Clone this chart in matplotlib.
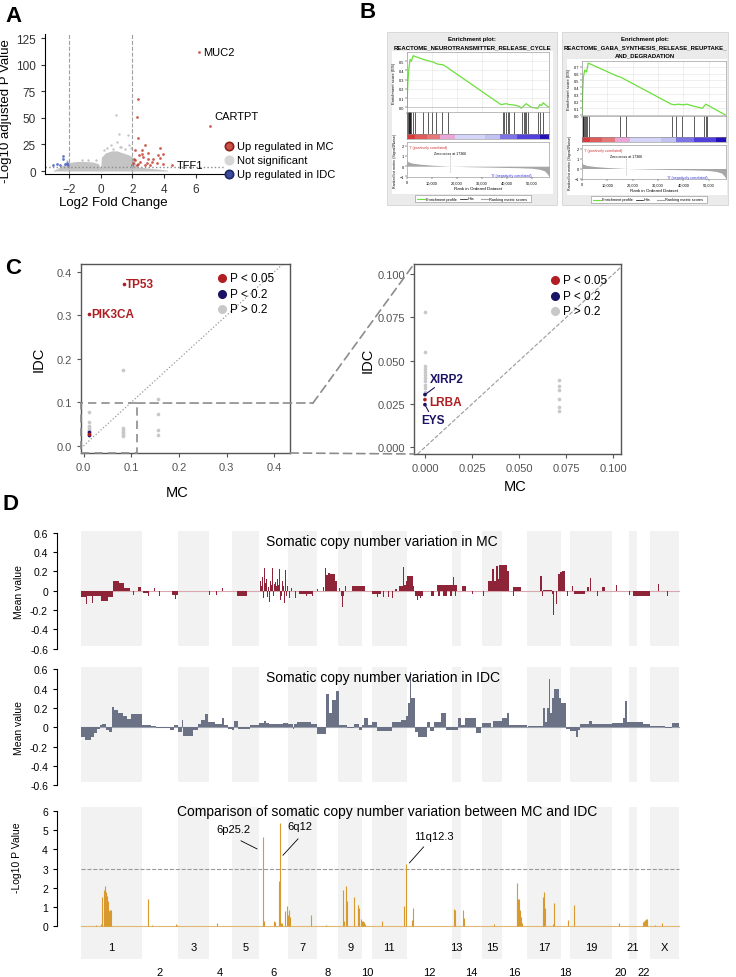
import numpy as np
import matplotlib.pyplot as plt
from matplotlib.patches import Rectangle, ConnectionPatch
from matplotlib.lines import Line2D

plt.rcParams['font.family'] = ['Liberation Sans', 'DejaVu Sans']

W, H = 736, 978

# ---------------- A: volcano data ----------------
cloud_fc = [-3.0, -2.7, -2.4, -2.0, -1.5, -1.0, -0.5, -0.15, 0.0, 0.05, 0.3, 0.7, 1.0, 1.4, 1.8, 2.0, 2.3, 2.8, 3.5, 4.2]
cloud_top = [0.5, 2.5, 5.5, 8, 9, 9, 8.5, 7, 3, 13, 17, 19, 19, 17, 15, 13, 4, 3, 2, 0.8]
ns_fc = [0.95, 1.16, 1.74, 1.05, 0.66, 1.78, 0.4, 1.3, 0.8, 1.5, 1.9, 0.2, -0.3, -1.2, -2.1, -0.8, 1.2]
ns_logp = [52.4, 35.1, 33.5, 27.2, 24.1, 24.1, 22, 22.5, 21, 20.5, 21.5, 20, 10.5, 10, 9, 10.5, 23]
mc_fc = [2.32, 2.26, 2.32, 2.79, 3.73, 2.16, 2.58, 3.94, 3.0, 2.43, 3.62, 2.68, 2.16, 3.0, 3.31, 2.48,
         3.2, 3.73, 2.37, 2.9, 3.52, 2.26, 2.79, 3.1, 3.94, 2.05, 2.1, 2.58, 2.0, 6.16, 6.87, 4.47]
mc_logp = [67.3, 50.7, 30.9, 24.6, 21.9, 19.4, 16.2, 16.2, 17.1, 14.6, 14.6, 13.1, 9.9, 11.5, 11.5, 8.4,
           8.4, 12.1, 6.8, 7.7, 7.7, 5.3, 5.3, 5.9, 6.2, 7.7, 11.5, 19.4, 5.3, 111.5, 42.6, 5.6]
idc_fc = [-2.35, -2.35, -2.1, -2.76, -2.97, -2.05, -2.56, -2.25]
idc_logp = [13.8, 11.3, 7.7, 6.8, 5.9, 5.9, 5.3, 6.8]
volcano_genes = ['MUC2', 'CARTPT', 'TFF1']
volcano_gene_fc = [6.16, 6.87, 4.47]
volcano_gene_logp = [111.5, 42.6, 5.6]
volcano_legend = ['Up regulated in MC', 'Not significant', 'Up regulated in IDC']

# ---------------- B: GSEA data ----------------
rank_max = 56800
es1_rank = [0, 70, 400, 810, 1220, 1760, 2430, 4460, 6490, 9190, 10540, 12160, 14600, 37570, 39600, 40950,
            42970, 45000, 45680, 47700, 49730, 52430, 53100, 53780, 54460, 55810, 56800]
es1_val = [0, 0.1, 0.3, 0.43, 0.52, 0.5, 0.56, 0.54, 0.52, 0.5, 0.49, 0.47, 0.46, 0.03, 0.04, 0.03,
           0.025, 0.01, -0.01, 0.04, 0.0, -0.01, 0.03, 0.02, 0.05, 0.02, 0.0]
hits1 = [100, 400, 700, 800, 1100, 1350, 1750, 2430, 3100, 6490, 8510, 9860, 11620, 13920, 16220, 38240,
         38920, 39590, 40270, 40950, 42970, 45950, 46620, 47030, 47700, 48380, 52430, 53110, 54460]
es2_rank = [0, 270, 550, 1090, 1770, 2460, 14050, 15140, 35200, 36560, 37930, 39970, 41340, 44070, 47480, 48840, 56800]
es2_val = [0, 0.35, 0.55, 0.65, 0.62, 0.75, 0.56, 0.55, 0.16, 0.15, 0.16, 0.15, 0.16, 0.13, 0.1, 0.16, 0.0]
hits2 = [270, 550, 820, 1090, 1500, 2050, 2860, 14870, 17190, 35470, 36970, 39290, 44070, 48160, 48840, 49250]
metric_rank = [0, 300, 2000, 5000, 10000, 17366, 25000, 35000, 45000, 50000, 53000, 55000, 56000, 56800]
metric_val = [0.7, 0.45, 0.3, 0.2, 0.1, 0.0, -0.05, -0.1, -0.15, -0.2, -0.3, -0.45, -0.7, -1.0]
cbar_start = [0, 3000, 8000, 13000, 19000, 31000, 37000, 44000, 53000]
cbar_end = [3000, 8000, 13000, 19000, 31000, 37000, 44000, 53000, 56800]
cbar_colors = ['#D63C3C', '#DE5C5C', '#E57878', '#E9A6D6', '#D4D4F8', '#C2C2F2', '#7C74E6', '#5140DC', '#2210B8']

# ---------------- C: mutation frequency data ----------------
cl_grey_mc = [0.011, 0.011, 0.011, 0.011, 0.011, 0.011, 0.011, 0.011, 0.011,
              0.083, 0.083, 0.083, 0.083, 0.083, 0.083, 0.083, 0.155, 0.155, 0.155, 0.155]
cl_grey_idc = [0.077, 0.054, 0.045, 0.042, 0.039, 0.036, 0.033, 0.030, 0.025,
               0.040, 0.036, 0.032, 0.029, 0.025, 0.022, 0.173, 0.108, 0.072, 0.036, 0.025]
cl_red_genes = ['TP53', 'PIK3CA']
cl_red_mc = [0.084, 0.011, 0.011]
cl_red_idc = [0.372, 0.303, 0.0275]
cl_blue_mc = [0.011, 0.011]
cl_blue_idc = [0.0304, 0.0246]
cr_grey_mc = [0, 0, 0, 0, 0, 0, 0, 0, 0, 0, 0, 0, 0.071, 0.071, 0.071, 0.071, 0.071, 0.071]
cr_grey_idc = [0.078, 0.055, 0.047, 0.045, 0.0435, 0.042, 0.040, 0.038, 0.036, 0.034, 0.032, 0.031,
               0.039, 0.0355, 0.033, 0.028, 0.0235, 0.021]
cr_genes = ['XIRP2', 'LRBA', 'EYS']
cr_gene_mc = [0, 0, 0]
cr_gene_idc = [0.0304, 0.0275, 0.0246]
cr_gene_colors = ['#1B1464', '#B01E23', '#1B1464']
c_legend = ['P < 0.05', 'P < 0.2', 'P > 0.2']

# ---------------- D: copy number data ----------------
chrom_names = ['1', '2', '3', '4', '5', '6', '7', '8', '9', '10', '11', '12', '13', '14', '15', '16',
               '17', '18', '19', '20', '21', '22', 'X']
chrom_sizes = [60.7, 36.6, 30.4, 23.2, 26.7, 29.5, 28.6, 21.4, 24.1, 9.4, 35.2, 45.1, 9.3, 21.0, 20.1,
               25.0, 33.5, 9.3, 42.0, 16.5, 8.0, 13.4, 29.0]
# segments: (start, end, mean value)
mc_segments = [
    (0, 4.5, -0.07), (4.5, 5.5, -0.14), (5.5, 11, -0.06), (11, 12, -0.13), (12, 20, -0.06), (20, 27, -0.11),
    (27, 32, -0.07), (32, 38, 0.10), (38, 43, 0.08), (43, 49, 0.03), (52, 53, -0.04), (56.5, 60, 0.04),
    (62, 67, -0.02), (67, 68, -0.06), (73, 74, 0.03), (77.5, 78.5, -0.05), (91, 97, -0.04), (94, 95, -0.09),
    (125.5, 126.2, -0.07), (128, 128.8, -0.04), (135, 135.8, -0.04), (140.5, 141.5, 0.03),
    (155.5, 165.5, -0.05), (171.5, 172.3, -0.05),
    (179.2, 180.2, 0.10), (180.2, 181.2, 0.05), (181.2, 182.2, 0.14), (182.2, 182.9, -0.08), (182.9, 183.8, 0.24),
    (183.8, 184.5, 0.08), (184.5, 185.5, 0.12), (185.8, 186.8, -0.07), (186.8, 187.5, 0.04), (187.5, 188.5, -0.12),
    (189.2, 190.2, 0.10), (190.2, 190.8, 0.06), (190.8, 191.8, 0.24), (191.8, 192.5, -0.06), (192.5, 193.5, 0.07),
    (194.2, 195.2, 0.09), (195.2, 195.8, 0.05), (195.8, 196.8, 0.12), (196.8, 197.5, 0.06), (197.5, 198.5, 0.22),
    (199.2, 200.2, -0.10), (200.2, 200.8, -0.05), (200.8, 201.8, 0.10), (201.8, 202.5, 0.05), (202.5, 203.5, -0.13),
    (204.2, 205.2, 0.21), (205.2, 205.8, -0.06), (205.8, 206.8, 0.05), (207.8, 208.8, -0.08),
    (210, 211, 0.03), (213.5, 214.5, -0.08), (218, 231, -0.03), (225, 226, -0.05), (231, 232, -0.05),
    (236.3, 237.1, 0.02), (238.6, 239.4, -0.05), (242, 242.8, 0.04), (243.5, 244.5, 0.24), (244.5, 247, 0.16),
    (247, 249, 0.18), (249, 254, 0.17), (254, 256.3, 0.10),
    (258, 259, 0.03), (259.5, 263, -0.05), (261.3, 262.2, -0.17), (263.8, 264.6, 0.05), (270.7, 284, 0.05),
    (291, 300, -0.03), (296, 297, -0.07), (302, 303, -0.07), (307, 308, -0.07), (311, 312, -0.08),
    (313.5, 316, 0.02), (318.3, 322, 0.05), (322, 322.8, 0.25), (322.8, 324.5, 0.06), (324.5, 326, 0.10),
    (326, 327.5, 0.15), (327.5, 328.3, 0.30), (328.3, 331.5, 0.15), (331.5, 332.5, 0.05),
    (334, 342, -0.05), (335.5, 336.5, -0.10), (338.5, 339.5, -0.08), (349.5, 352.5, -0.05),
    (355.7, 375.7, 0.06), (357, 359, -0.05), (362, 366, -0.05), (369, 371, -0.05), (372, 372.8, 0.14),
    (374, 374.8, -0.06), (375.5, 376.3, -0.08), (380.7, 385, 0.05), (391, 392, -0.03), (402, 403, -0.05),
    (407.3, 410.7, 0.10), (410.7, 413, 0.23), (413, 414.5, 0.10), (414.5, 416.7, 0.26), (416.7, 418, 0.12),
    (418, 425.7, 0.27), (425.7, 427.5, 0.20), (432.3, 439.7, 0.04), (432.3, 433.3, -0.06),
    (459, 460.5, 0.15), (460.5, 461.5, -0.05), (461.7, 470.7, 0.01), (470.7, 472, -0.03), (472, 473, -0.25),
    (475, 476, -0.14), (477.3, 479, 0.17), (479, 481, 0.19), (481, 484, 0.20),
    (485.5, 486.5, -0.06), (490.5, 491.5, 0.05), (493.3, 504, -0.03), (505.7, 508.3, 0.04), (509, 510, 0.13),
    (516, 517, -0.05), (521.3, 524, 0.04), (534.5, 535.5, 0.06), (547.5, 548.5, -0.04), (552.3, 569, -0.05),
    (570.5, 571.3, 0.03), (577, 577.8, 0.07), (586.3, 587.1, -0.06),
]
idc_segments = [
    (0, 4, -0.10), (4, 10, -0.13), (10, 13.3, -0.10), (13.3, 16, -0.06), (16, 19, -0.02), (19, 21, 0.02),
    (21, 25, 0.03), (25, 27.5, -0.03), (27.5, 31.3, -0.05), (31.3, 33, 0.21), (33, 37, 0.18), (37, 42, 0.15),
    (42, 46.4, 0.12), (46.4, 50, 0.09), (50, 55, 0.14), (55, 60.5, 0.14), (60.5, 70, 0.02), (70, 75, 0.01),
    (75, 88.8, -0.01), (88.8, 93, -0.03), (93, 97.3, 0.02), (97.3, 100.6, -0.05), (100.6, 102, 0.08),
    (102, 112.4, -0.09), (112.4, 117, -0.03), (117, 120, 0.03), (120, 124, 0.08), (124, 127, 0.14),
    (127, 133.6, 0.06), (133.6, 140.7, 0.03), (140.7, 143, 0.10), (143, 147, 0.02), (147, 151, -0.02),
    (151, 153, -0.03), (153, 157, 0.07), (157, 160, -0.02), (160, 169, -0.02), (169, 177.5, 0.02),
    (177.5, 183, 0.04), (183, 185, 0.07), (185, 188, 0.04), (188, 202, 0.03), (202, 207.2, 0.04),
    (207.2, 211.5, 0.03), (211.5, 213, -0.02), (213, 216.2, 0.03), (216.2, 230.3, 0.05), (230.3, 236, 0.03),
    (236, 244.5, -0.07), (244.5, 247.8, 0.35), (247.8, 250.6, 0.15), (250.6, 254.8, 0.28), (254.8, 257.7, 0.38),
    (257.7, 265.7, 0.02), (265.7, 272.8, -0.01), (272.8, 277.5, 0.03), (277.5, 281.3, -0.03),
    (281.3, 283.2, 0.02), (283.2, 286.9, 0.10), (286.9, 290.7, 0.02), (290.7, 296.4, 0.06),
    (296.4, 310.5, -0.04), (310.5, 320, 0.05), (320, 324.7, 0.08), (324.7, 327, 0.12), (327, 329, 0.25),
    (329, 330, 0.57), (330, 334, 0.30), (334, 337, -0.05), (337, 345.9, -0.10), (345.9, 349, 0.05),
    (349, 353, -0.04), (353, 360, 0.05), (360, 364.8, 0.15), (364.8, 370.9, -0.03), (370.9, 376.5, -0.03),
    (376.5, 380.3, 0.10), (380.3, 383.6, 0.02), (383.6, 395.4, 0.10), (395.4, 400, -0.06), (401, 409.6, 0.04),
    (409.6, 411.9, 0.0), (411.9, 421.4, 0.07), (421.4, 426.1, 0.10), (426.1, 428.4, 0.15), (428.4, 446.4, 0.02),
    (447.3, 461.5, 0.01), (461.5, 463.8, 0.20), (463.8, 466.2, 0.05), (466.2, 467.5, 0.20), (467.5, 469, 0.50),
    (469, 471, 0.15), (471, 473.2, 0.30), (473.2, 478, 0.40), (478, 480.3, 0.30), (480.3, 485, 0.25),
    (485, 489.3, -0.02), (489.3, 495, -0.04), (495, 496.8, -0.10), (496.8, 499.2, -0.03), (499.2, 508, 0.03),
    (508, 511, 0.07), (511, 531.3, 0.03), (531.3, 541.6, 0.04), (541.6, 544, 0.10), (544, 546.4, 0.27),
    (546.4, 547.8, 0.05), (547.8, 555.8, 0.06), (555.8, 562, 0.05), (562, 569, 0.03), (569, 584, 0.01),
    (584, 591, -0.01), (591, 598, 0.04),
]
pv_pos = [15, 20, 21.4, 22.8, 23, 23.7, 24, 24.7, 25, 25.6, 26, 26.5, 27, 27.5, 28, 28.5, 29.4, 30.3,
          66.6, 71, 94.5, 95.5, 136, 164,
          181.7, 182, 183, 192.6, 193.5, 198.2, 198.7, 199.5, 200.5,
          204, 205.8, 206.5, 207.7, 208.5, 230, 245,
          262, 263, 264.8, 266, 272.8, 276.5, 277.5, 279.8, 281, 282, 283, 284,
          301, 323, 324.7, 330.8, 331.7, 372.8, 373.5, 382, 383, 413,
          435.5, 436.2, 437, 438, 439, 440, 440.7, 461.5, 462.4, 463.3, 464, 472, 473,
          487.4, 493, 538, 561.5, 562.5, 563.5, 564.5, 565.5, 566.3, 573.7, 580.8]
pv_val = [0.05, 0.1, 1.55, 1.9, 1.0, 2.1, 1.2, 1.8, 1.5, 1.6, 1.0, 1.3, 0.9, 0.8, 0.8, 0.8, 0.85, 0.85,
          1.4, 0.05, 0.1, 0.08, 0.15, 0.02,
          4.65, 0.3, 0.3, 0.25, 0.2, 2.35, 5.4, 0.15, 0.15,
          0.8, 1.05, 0.6, 0.85, 0.5, 0.6, 0.05,
          1.9, 0.3, 2.1, 1.3, 1.55, 1.1, 0.95, 0.4, 0.3, 0.25, 0.2, 0.1,
          0.3, 1.05, 3.25, 0.35, 0.95, 0.9, 0.85, 0.85, 0.45, 0.1,
          2.25, 1.4, 1.4, 1.4, 0.85, 0.5, 0.15, 0.5, 1.5, 1.8, 0.95, 0.1, 1.2,
          0.35, 1.1, 0.15, 0.2, 0.3, 0.35, 0.4, 0.4, 0.25, 0.05, 0.15]
peak_labels = ['6p25.2', '6q12', '11q12.3']
peak_text_xy = [(152, 4.8), (219, 4.96), (352.5, 4.45)]
peak_line = [((160, 4.45), (176, 4.03)), ((217, 4.55), (202, 3.7)), ((342.6, 4.13), (328.4, 3.3))]
p_threshold = 3

# ---------------- helpers ----------------
fig = plt.figure(figsize=(W / 100, H / 100), dpi=100)


def fx(px):
    return px / W


def fy(py):
    return 1 - py / H


def add_px_axes(left, top, right, bottom):
    return fig.add_axes([fx(left), fy(bottom), (right - left) / W, (bottom - top) / H])


def fig_rect(l, t, r, b, **kw):
    fig.add_artist(Rectangle((fx(l), fy(b)), (r - l) / W, (b - t) / H, transform=fig.transFigure, **kw))


for letter, x, y in [('A', 14, 16), ('B', 368, 12), ('C', 13, 269), ('D', 10, 505)]:
    fig.text(fx(x), fy(y), letter, fontsize=16, fontweight='bold', ha='center', va='center')

# ---------------- A ----------------
ax = add_px_axes(45, 35, 225, 175)
ax.fill_between(cloud_fc, 0, cloud_top, color='#C4C4C4', lw=0)
ax.scatter(ns_fc, ns_logp, s=3, color='#C4C4C4', lw=0)
ax.scatter(mc_fc, mc_logp, s=4, color='#C0392B', alpha=0.8, lw=0)
ax.scatter(idc_fc, idc_logp, s=4, color='#3B55C0', alpha=0.8, lw=0)
for g, xg, yg in zip(volcano_genes, volcano_gene_fc, volcano_gene_logp):
    dy = 4 if g == 'CARTPT' else 0
    ax.text(xg + 0.3, yg + dy, g, fontsize=8, va='bottom' if dy else 'center')
ax.axvline(-2, color='#A0A0A0', ls='--', lw=0.8)
ax.axvline(2, color='#A0A0A0', ls='--', lw=0.8)
ax.axhline(4, color='#8C8C8C', ls=':', lw=1.0)
ax.set_xlim(-3.5, 7.82)
ax.set_ylim(-2.8, 128.8)
ax.set_xticks([-2, 0, 2, 4, 6])
ax.set_yticks([0, 25, 50, 75, 100, 125])
ax.tick_params(labelsize=8.5, colors='#333333', length=3)
for s in ['top', 'right']:
    ax.spines[s].set_visible(False)
ax.set_ylabel('-Log10 adjusted P Value', fontsize=9.5)
ax.yaxis.set_label_coords(-0.185, 0.46)
ax.set_xlabel('Log2 Fold Change', fontsize=9.5)
ax.xaxis.set_label_coords(0.38, -0.16)
leg_fill = ['#C9514A', '#D6D6D6', '#3B4C9B']
leg_edge = ['#8E1F1A', '#D6D6D6', '#1E2A66']
for i, (lab, fc, ec) in enumerate(zip(volcano_legend, leg_fill, leg_edge)):
    yy = [147, 161, 175][i]
    fig.add_artist(Line2D([fx(229)], [fy(yy)], marker='o', ms=6, mfc=fc, mec=ec, mew=1.2, transform=fig.transFigure))
    fig.text(fx(237), fy(yy), lab, fontsize=8, va='center')


# ---------------- B ----------------
def draw_gsea(box, white, title, es_px, hit_px, bar_px, met_px, leg_px, es_rank, es_val, hits, es_lim, es_ticks):
    bl, bt, br, bb = box
    fig_rect(bl, bt, br, bb, facecolor='#EBEBEB', edgecolor='#D4D4D4', lw=0.6, zorder=-2)
    fig_rect(*white, facecolor='white', edgecolor='none', zorder=-1)
    for i, line in enumerate(title):
        fig.text(fx((bl + br) / 2), fy(bt + 6 + 8.7 * i), line, ha='center', va='center', fontsize=4.3, fontweight='bold')
    ticks = [0, 10000, 20000, 30000, 40000, 50000]
    ea = add_px_axes(*es_px)
    ea.grid(color='#E4E4E4', lw=0.4)
    ea.plot(es_rank, es_val, color='#6BE03A', lw=0.9)
    ea.axhline(0, color='#B0B0B0', lw=0.4)
    ea.set_xlim(0, rank_max)
    ea.set_ylim(*es_lim)
    ea.set_yticks(es_ticks)
    ea.set_yticklabels(['%.1f' % v for v in es_ticks])
    ea.set_xticks(ticks)
    ea.set_xticklabels([])
    ea.set_ylabel('Enrichment score (ES)', fontsize=3, labelpad=2)
    ha = add_px_axes(*hit_px)
    ha.vlines(hits, 0, 1, color='black', lw=0.45)
    ha.set_xlim(0, rank_max)
    ha.set_ylim(0, 1)
    ha.set_xticks([])
    ha.set_yticks([])
    ba = add_px_axes(*bar_px)
    for s, e, c in zip(cbar_start, cbar_end, cbar_colors):
        ba.axvspan(s, e, color=c, lw=0)
    ba.set_xlim(0, rank_max)
    ba.set_xticks([])
    ba.set_yticks([])
    ma = add_px_axes(*met_px)
    ma.fill_between(metric_rank, metric_val, 0, color='#A6A6A6', lw=0)
    ma.plot([17366, 17366], [-0.6, 1.1], color='#B0B0B0', ls='--', lw=0.4)
    ma.text(11000, 1.2, 'Zero cross at 17366', fontsize=2.6)
    ma.text(800, 2.1, "'I' (positively correlated)", fontsize=2.6, color='#D03030', va='top')
    ma.text(33500, -0.85, "'II' (negatively correlated)", fontsize=2.6, color='#3030E0', va='center')
    ma.set_xlim(0, rank_max)
    ma.set_ylim(-1.05, 2.35)
    ma.set_yticks([-1, 0, 1, 2])
    ma.set_xticks(ticks)
    ma.set_xticklabels(['0', '10,000', '20,000', '30,000', '40,000', '50,000'])
    ma.set_xlabel('Rank in Ordered Dataset', fontsize=3.2, labelpad=1.5)
    ma.set_ylabel('Ranked list metric (Signal2Noise)', fontsize=2.6, labelpad=2)
    for a in (ea, ha, ba, ma):
        a.tick_params(labelsize=2.8, length=1.2, width=0.3, pad=1)
        for sp in a.spines.values():
            sp.set_linewidth(0.4)
            sp.set_color('#888888')
    ll, lt, lr, lb = leg_px
    fig_rect(ll, lt, lr, lb, facecolor='white', edgecolor='#888888', lw=0.4, zorder=1)
    ym = (lt + lb) / 2
    fig.add_artist(Line2D([fx(ll + 2), fx(ll + 10)], [fy(ym), fy(ym)], color='#6BE03A', lw=0.8, transform=fig.transFigure, zorder=2))
    fig.text(fx(ll + 11), fy(ym), 'Enrichment profile', fontsize=2.8, va='center', zorder=2)
    fig.add_artist(Line2D([fx(ll + 45), fx(ll + 52)], [fy(ym), fy(ym)], color='black', lw=0.5, transform=fig.transFigure, zorder=2))
    fig.text(fx(ll + 53), fy(ym), 'Hits', fontsize=2.8, va='center', zorder=2)
    fig.add_artist(Line2D([fx(ll + 66), fx(ll + 73)], [fy(ym), fy(ym)], color='#A6A6A6', lw=0.8, transform=fig.transFigure, zorder=2))
    fig.text(fx(ll + 74), fy(ym), 'Ranking metric scores', fontsize=2.8, va='center', zorder=2)


draw_gsea((387, 33, 557, 206), (392, 52, 553, 195),
          ['Enrichment plot:', 'REACTOME_NEUROTRANSMITTER_RELEASE_CYCLE'],
          (407, 53, 549, 113), (407, 113, 549, 134.5), (407, 134.5, 549, 140), (407, 143, 549, 178),
          (415, 196, 531, 203), es1_rank, es1_val, hits1, (-0.05, 0.6), [0.0, 0.1, 0.2, 0.3, 0.4, 0.5])
draw_gsea((562, 33, 728, 206), (567, 60, 726.5, 196),
          ['Enrichment plot:', 'REACTOME_GABA_SYNTHESIS_RELEASE_REUPTAKE_', 'AND_DEGRADATION'],
          (582, 62, 726, 117), (582, 117, 726, 137.5), (582, 137.5, 726, 142.5), (582, 146, 726, 180),
          (591, 197, 707, 204), es2_rank, es2_val, hits2, (-0.01, 0.78), [0.0, 0.1, 0.2, 0.3, 0.4, 0.5, 0.6, 0.7])

# ---------------- C ----------------
red_c, navy_c, grey_c = '#B01E23', '#1B1464', '#C8C8C8'


def style_c(a):
    for sp in a.spines.values():
        sp.set_color('#555555')
        sp.set_linewidth(1.0)
    a.tick_params(labelsize=8, colors='#555555', length=3)


axl = add_px_axes(81, 265, 290, 454)
axl.scatter(cl_grey_mc, cl_grey_idc, s=7, color=grey_c, lw=0, zorder=2)
axl.scatter(cl_blue_mc, cl_blue_idc, s=7, color=navy_c, lw=0, zorder=3)
axl.scatter(cl_red_mc, cl_red_idc, s=7, color=red_c, lw=0, zorder=3)
for g, xg, yg in zip(cl_red_genes, cl_red_mc, cl_red_idc):
    axl.text(xg + 0.004, yg, g, color=red_c, fontsize=8.5, fontweight='bold', va='center')
axl.axline((0, 0), slope=1, color='#999999', ls=':', lw=0.9)
axl.set_xlim(-0.0057, 0.4325)
axl.set_ylim(-0.0168, 0.4177)
axl.set_xticks([0, 0.1, 0.2, 0.3, 0.4])
axl.set_yticks([0, 0.1, 0.2, 0.3, 0.4])
axl.set_xticklabels(['0.0', '0.1', '0.2', '0.3', '0.4'])
axl.set_yticklabels(['0.0', '0.1', '0.2', '0.3', '0.4'])
style_c(axl)
axl.set_xlabel('MC', fontsize=10.5)
axl.xaxis.set_label_coords(0.46, -0.17)
axl.set_ylabel('IDC', fontsize=10.5)
axl.yaxis.set_label_coords(-0.17, 0.5)
axl.add_patch(Rectangle((-0.0057, -0.0168), 0.1167, 0.1148, fill=False, ec='#8C8C8C', ls=(0, (5, 3)), lw=1.2, zorder=4, clip_on=False))

axr = add_px_axes(414, 265, 621, 455)
axr.scatter(cr_grey_mc, cr_grey_idc, s=7, color=grey_c, lw=0, zorder=2)
axr.scatter(cr_gene_mc, cr_gene_idc, s=7, color=cr_gene_colors, lw=0, zorder=3)
axr.annotate(cr_genes[0], xy=(0, 0.0304), xytext=(0.0025, 0.0395), color=navy_c, fontsize=8.5, fontweight='bold',
             va='center', arrowprops=dict(arrowstyle='-', color=navy_c, lw=0.8, shrinkA=0, shrinkB=0))
axr.text(0.0022, 0.0262, cr_genes[1], color=red_c, fontsize=8.5, fontweight='bold', va='center')
axr.annotate(cr_genes[2], xy=(0, 0.0246), xytext=(-0.0018, 0.0155), color=navy_c, fontsize=8.5, fontweight='bold',
             va='center', arrowprops=dict(arrowstyle='-', color=navy_c, lw=0.8, shrinkA=0, shrinkB=0))
axr.axline((0, 0), slope=1, color='#999999', ls='--', lw=0.8)
axr.set_xlim(-0.0058, 0.104)
axr.set_ylim(-0.0039, 0.1058)
axr.set_xticks([0, 0.025, 0.05, 0.075, 0.1])
axr.set_yticks([0, 0.025, 0.05, 0.075, 0.1])
axr.set_xticklabels(['0.000', '0.025', '0.050', '0.075', '0.100'])
axr.set_yticklabels(['0.000', '0.025', '0.050', '0.075', '0.100'])
style_c(axr)
axr.set_xlabel('MC', fontsize=10.5)
axr.xaxis.set_label_coords(0.49, -0.13)
axr.set_ylabel('IDC', fontsize=10.5)
axr.yaxis.set_label_coords(-0.19, 0.5)

for a, lx, ly in [(axl, 222, 279), (axr, 555, 281)]:
    for i, (lab, c) in enumerate(zip(c_legend, [red_c, navy_c, grey_c])):
        yy = ly + 15.5 * i
        fig.add_artist(Line2D([fx(lx)], [fy(yy)], marker='o', ms=5.5, mfc=c, mec=c, transform=fig.transFigure, zorder=5))
        fig.text(fx(lx + 8), fy(yy), lab, fontsize=8.5, va='center', zorder=5)

dash_kw = dict(color='#8C8C8C', ls=(0, (5, 3)), lw=1.2, zorder=6)
fig.add_artist(ConnectionPatch(xyA=(0.111, 0.098), coordsA=axl.transData, xyB=(fx(313), fy(404)),
                               coordsB=fig.transFigure, **dash_kw))
fig.add_artist(ConnectionPatch(xyA=(fx(313), fy(404)), coordsA=fig.transFigure, xyB=(0, 1),
                               coordsB=axr.transAxes, **dash_kw))
fig.add_artist(ConnectionPatch(xyA=(1, 0), coordsA=axl.transAxes, xyB=(0, 0),
                               coordsB=axr.transAxes, **dash_kw))

# ---------------- D ----------------
chrom_start = np.concatenate([[0], np.cumsum(chrom_sizes)[:-1]])
genome_len = float(np.sum(chrom_sizes))
odd = np.arange(0, len(chrom_sizes), 2)
title_font = ['Liberation Sans Narrow', 'Liberation Sans', 'DejaVu Sans']


def track(top, bottom, ylim, band_lo, band_hi):
    a = add_px_axes(57, top, 690, bottom)
    a.bar(chrom_start[odd], band_hi - band_lo, bottom=band_lo, width=np.array(chrom_sizes)[odd],
          align='edge', color='#F2F2F2', lw=0, zorder=0)
    a.set_xlim(-24, 609)
    a.set_ylim(*ylim)
    a.set_xticks([])
    for s in ['top', 'right', 'bottom']:
        a.spines[s].set_visible(False)
    a.tick_params(axis='y', labelsize=7.5, length=3)
    return a


cnv_ticks = [-0.6, -0.4, -0.2, 0, 0.2, 0.4, 0.6]
cnv_labels = ['-0.6', '-0.4', '-0.2', '0', '0.2', '0.4', '0.6']
for (top, bottom), segs, col, base, name in [((529, 654.4), mc_segments, '#8E2438', '#D9A7AF', 'MC'),
                                              ((665.6, 791), idc_segments, '#6B7285', '#9CA1AE', 'IDC')]:
    a = track(top, bottom, (-0.65, 0.65), -0.57, 0.62)
    st = np.array([s[0] for s in segs])
    en = np.array([s[1] for s in segs])
    va = np.array([s[2] for s in segs])
    a.plot([0, genome_len], [0, 0], color=base, lw=0.8, zorder=1)
    a.bar(st, va, width=en - st, align='edge', color=col, lw=0, zorder=2)
    a.set_yticks(cnv_ticks)
    a.set_yticklabels(cnv_labels)
    a.spines['left'].set_bounds(-0.6, 0.6)
    a.set_ylabel('Mean value', fontsize=7.5, labelpad=4)
    a.text(185, 0.52, 'Somatic copy number variation in ' + name, fontsize=10, family=title_font, va='center')

a3 = track(806.3, 977.2, (-2.6, 6.3), -1.7, 6.2)
a3.plot([0, genome_len], [0, 0], color='#E0B870', lw=0.8, zorder=1)
a3.vlines(pv_pos, 0, pv_val, color='#D89A2E', lw=0.8, zorder=2)
a3.plot([0, genome_len], [p_threshold, p_threshold], color='#999999', ls='--', lw=0.8, zorder=1)
a3.set_yticks([0, 1, 2, 3, 4, 5, 6])
a3.spines['left'].set_bounds(0, 6)
a3.set_ylabel('-Log10 P Value', fontsize=7.5, labelpad=6)
a3.yaxis.set_label_coords(-0.055, 0.70)
a3.text(306, 6.0, 'Comparison of somatic copy number variation between MC and IDC', fontsize=10,
        family=title_font, ha='center', va='center')
for lab, (tx, ty), ((x0, y0), (x1, y1)) in zip(peak_labels, peak_text_xy, peak_line):
    a3.text(tx, ty, lab, fontsize=8, family=title_font, ha='center', va='bottom')
    a3.plot([x0, x1], [y0, y1], color='black', lw=0.6)
for i, (nm, s0, sz) in enumerate(zip(chrom_names, chrom_start, chrom_sizes)):
    yy = -1.1 if i % 2 == 0 else -2.4
    a3.text(s0 + sz / 2, yy, nm, fontsize=8, family=title_font, ha='center', va='center')

fig.savefig('out.png', dpi=100)
